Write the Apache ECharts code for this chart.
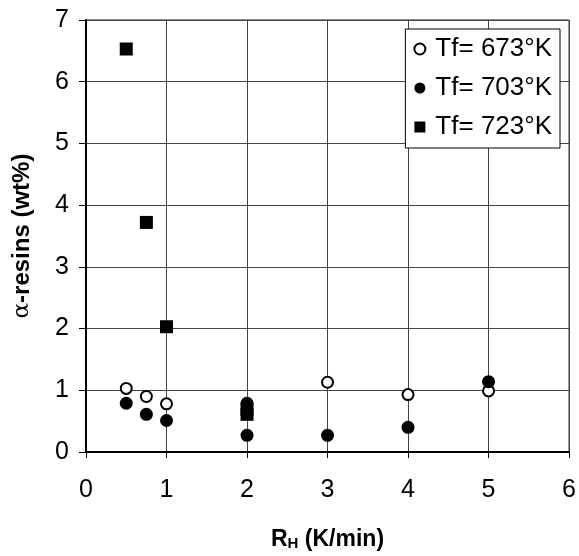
<!DOCTYPE html>
<html>
<head>
<meta charset="utf-8">
<script src="https://cdn.jsdelivr.net/npm/echarts@6/dist/echarts.min.js"></script>
<style>
  html, body { margin: 0; padding: 0; background: #fff; }
  #chart { width: 579px; height: 556px; }
</style>
</head>
<body>
<div id="chart"></div>
<script>
  // Tf = 673 K (open circles)
  const rate673 = [0.5, 0.75, 1, 3, 4, 5];
  const resin673 = [1.03, 0.9, 0.78, 1.13, 0.93, 0.99];
  // Tf = 703 K (filled circles)
  const rate703 = [0.5, 0.75, 1, 2, 2, 3, 4, 5];
  const resin703 = [0.79, 0.61, 0.51, 0.79, 0.27, 0.27, 0.4, 1.14];
  // Tf = 723 K (filled squares)
  const rate723 = [0.5, 0.75, 1, 2, 2];
  const resin723 = [6.53, 3.72, 2.03, 0.69, 0.61];

  const seriesNames = ['Tf= 673°K', 'Tf= 703°K', 'Tf= 723°K'];
  const xTicks = [0, 1, 2, 3, 4, 5, 6];
  const yTicks = [0, 1, 2, 3, 4, 5, 6, 7];

  const pairs = (xs, ys) => xs.map((x, i) => [x, ys[i]]);

  const chart = echarts.init(document.getElementById('chart'));
  const font = 'Arial, "Liberation Sans", sans-serif';

  const option = {
    backgroundColor: '#fff',
    animation: false,
    grid: {
      left: 86, right: 8, top: 20, bottom: 100,
      show: true,
      borderColor: '#222',
      borderWidth: 1
    },
    legend: {
      orient: 'vertical',
      right: 19,
      top: 29,
      data: seriesNames,
      backgroundColor: '#fff',
      borderColor: '#000',
      borderWidth: 1,
      padding: [7, 8, 8, 8],
      itemGap: 13,
      itemWidth: 11,
      itemHeight: 11,
      textStyle: {
        fontFamily: font,
        fontSize: 26,
        lineHeight: 26,
        color: '#000',
        padding: [0, 0, 0, 5]
      }
    },
    xAxis: {
      type: 'value',
      min: xTicks[0],
      max: xTicks[xTicks.length - 1],
      interval: 1,
      name: '{b|R}{s|H}{b| (K/min)}',
      nameLocation: 'middle',
      nameGap: 76,
      nameTextStyle: {
        rich: {
          b: { fontFamily: font, fontWeight: 'bold', fontSize: 23, color: '#000' },
          s: { fontFamily: font, fontWeight: 'bold', fontSize: 15, color: '#000', verticalAlign: 'bottom', padding: [7, 0, 0, 0] }
        }
      },
      axisLine: { show: true, onZero: false, lineStyle: { color: '#000', width: 2 } },
      axisTick: { show: true, inside: false, length: 6, lineStyle: { color: '#000' } },
      axisLabel: { color: '#000', fontFamily: font, fontSize: 25, margin: 26 },
      splitLine: { show: true, lineStyle: { color: '#444', width: 1 } }
    },
    yAxis: {
      type: 'value',
      min: yTicks[0],
      max: yTicks[yTicks.length - 1],
      interval: 1,
      name: '{a|α}{b|-resins (wt%)}',
      nameLocation: 'middle',
      nameGap: 52,
      nameTextStyle: {
        rich: {
          a: { fontFamily: '"DejaVu Serif", serif', fontSize: 23, color: '#000' },
          b: { fontFamily: font, fontWeight: 'bold', fontSize: 24, color: '#000' }
        }
      },
      axisLine: { show: true, onZero: false, lineStyle: { color: '#000', width: 2 } },
      axisTick: { show: true, inside: false, length: 7, lineStyle: { color: '#000' } },
      axisLabel: { color: '#000', fontFamily: font, fontSize: 25, margin: 17 },
      splitLine: { show: true, lineStyle: { color: '#444', width: 1 } }
    },
    series: [
      {
        name: seriesNames[0],
        type: 'scatter',
        data: pairs(rate673, resin673),
        symbol: 'circle',
        symbolSize: 11,
        itemStyle: { color: '#fff', borderColor: '#000', borderWidth: 2, opacity: 1 }
      },
      {
        name: seriesNames[1],
        type: 'scatter',
        data: pairs(rate703, resin703),
        symbol: 'circle',
        symbolSize: 13,
        itemStyle: { color: '#000', opacity: 1 }
      },
      {
        name: seriesNames[2],
        type: 'scatter',
        data: pairs(rate723, resin723),
        symbol: 'rect',
        symbolSize: 13,
        itemStyle: { color: '#000', opacity: 1 }
      }
    ]
  };

  chart.setOption(option);
</script>
</body>
</html>
